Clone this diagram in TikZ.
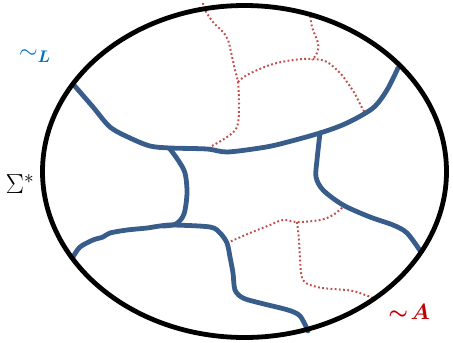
\documentclass[tikz,border=0pt]{standalone}
\usepackage{fix-cm}
\usepackage{amsmath,bm}
\definecolor{cutblue}{RGB}{56,93,138}
\definecolor{dotred}{RGB}{192,80,77}
\definecolor{lblue}{RGB}{0,112,192}
\definecolor{lred}{RGB}{192,0,0}
\begin{document}
\begin{tikzpicture}[x=1pt,y=-1pt,
  cut/.style={cutblue,line width=4.8pt,line cap=round,line join=round},
  dotline/.style={dotred,line width=2pt,dash pattern=on 1.8pt off 2.4pt},
  rim/.style={black,line width=4.8pt}]
\useasboundingbox (0,0) rectangle (453,343);
% red dotted curves
\draw[dotline] plot[smooth,tension=0.6] coordinates {(203,3) (205,10) (213,22) (223,32) (228,40) (231,52) (235,70) (238,83) (239,107) (237,127) (227,137) (210,147)};
\draw[dotline] plot[smooth,tension=0.6] coordinates {(238,82) (247,75) (270,65) (293,60) (313,59) (327,62) (340,73) (347,82) (355,94) (361,106) (365,113)};
\draw[dotline] plot[smooth,tension=0.6] coordinates {(310,12) (312,27) (318,43) (317,53) (312,60)};
\draw[dotline] plot[smooth,tension=0.6] coordinates {(227,243) (250,233) (270,225) (283,220) (297,222) (320,220) (333,215) (343,207)};
\draw[dotline] plot[smooth,tension=0.6] coordinates {(297,222) (299,240) (300,258) (303,280) (317,287) (333,289) (353,291) (373,298)};
% blue cuts
\draw[cut] plot[smooth,tension=0.5] coordinates {(73,84) (93,107) (110,127) (130,138) (150,146) (170,148) (207,149) (227,152) (260,148) (280,144) (320,133) (347,123) (373,108) (387,90) (398,68)};
\draw[cut] plot[smooth,tension=0.5] coordinates {(170,149) (178,160) (185,173) (187,193) (184,214) (176,224) (163,226)};
\draw[cut] plot[smooth,tension=0.5] coordinates {(73,257) (80,247) (93,240) (103,237) (110,233) (127,230) (147,228) (160,226) (173,225) (210,227) (220,233) (227,243) (230,257) (233,273) (235,290) (243,298) (260,303) (288,310) (300,316) (308,331)};
\draw[cut] plot[smooth,tension=0.5] coordinates {(320,133) (317,160) (316,177) (323,190) (343,205) (370,217) (393,225) (407,233) (421,252)};
% outer ellipse
\draw[rim] (244.5,171.5) ellipse [x radius=202, y radius=166];
% labels
\node[lblue,inner sep=0pt] (simL) at (35,56) {\scalebox{1.2}{\fontsize{20}{22}\selectfont$\sim_{\bm{L}}$}};
\node[inner sep=0pt] (sigma) at (20,184) {\scalebox{1.45}{\fontsize{19}{22}\selectfont$\Sigma^*$}};
\node[lred,inner sep=0pt] (simA) at (409,312) {\scalebox{1.3}{\fontsize{17}{20}\selectfont$\bm{\sim}\!\bm{A}$}};
\end{tikzpicture}
\end{document}
